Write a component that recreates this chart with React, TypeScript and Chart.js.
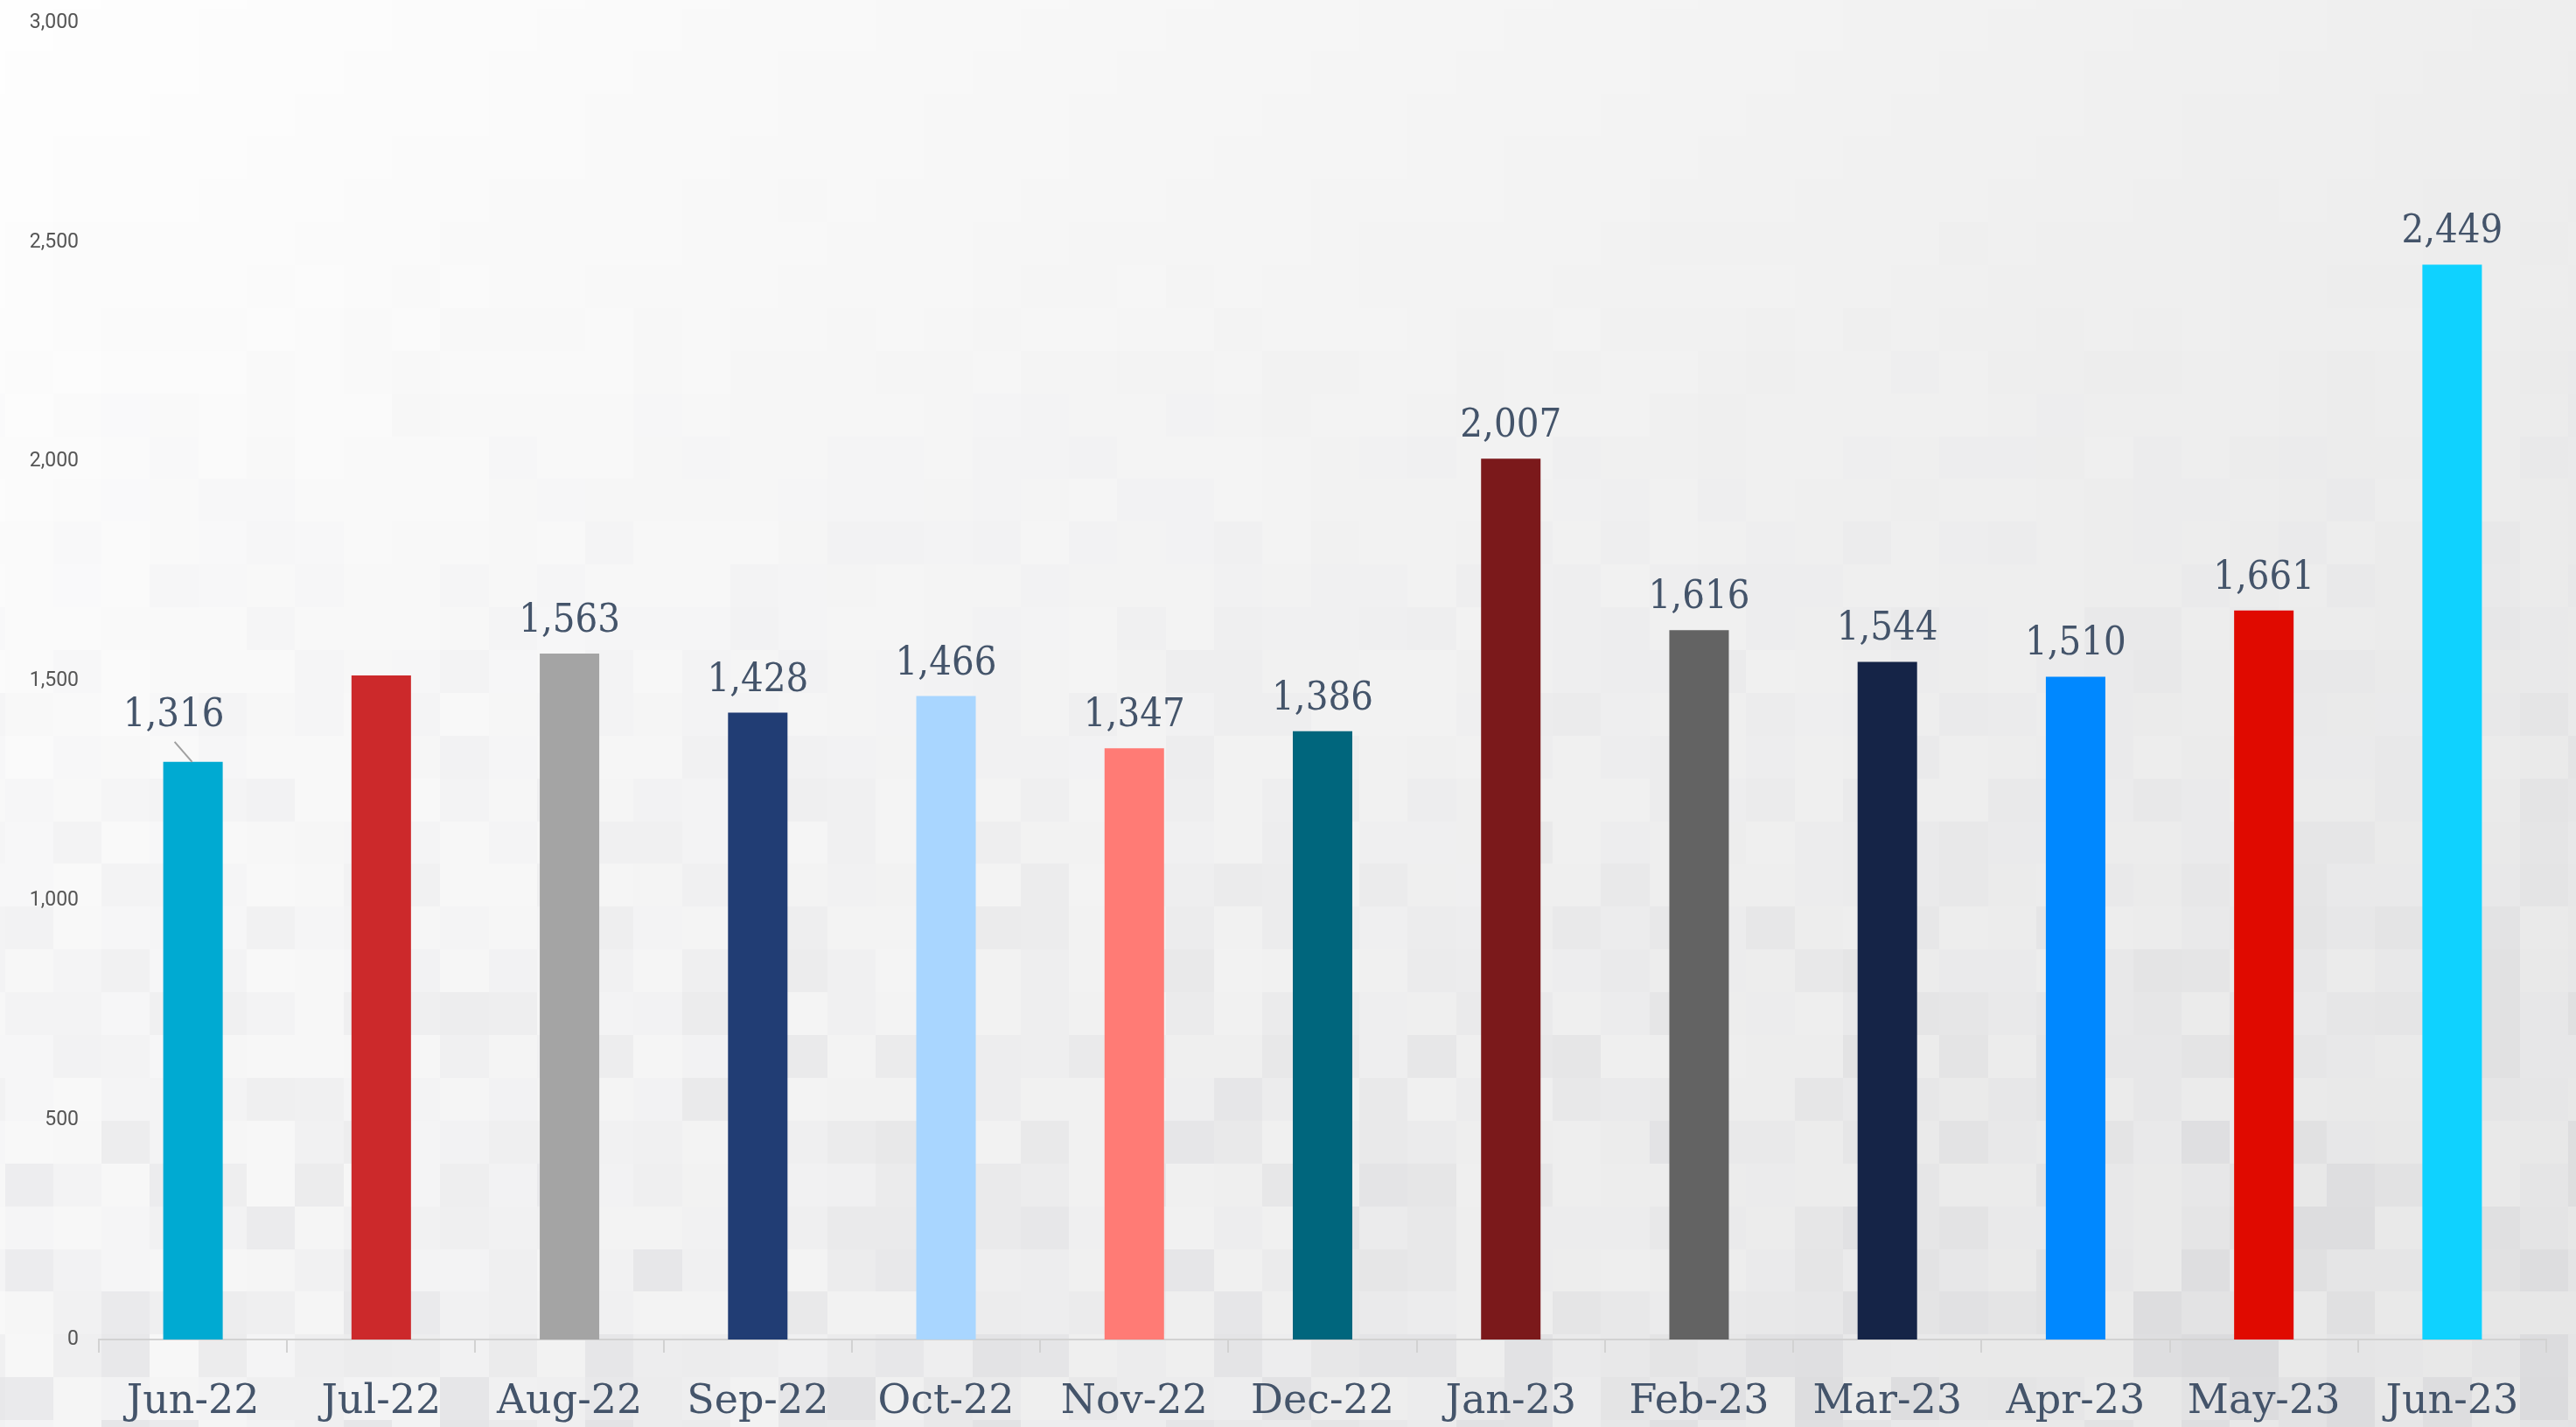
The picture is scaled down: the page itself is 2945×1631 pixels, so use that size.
import React, { useEffect, useRef } from "react";
import { Chart, registerables } from "chart.js";

Chart.register(...registerables);

const categories = [
  "Jun-22", "Jul-22", "Aug-22", "Sep-22", "Oct-22", "Nov-22", "Dec-22",
  "Jan-23", "Feb-23", "Mar-23", "Apr-23", "May-23", "Jun-23",
];
const values = [1316, 1513, 1563, 1428, 1466, 1347, 1386, 2007, 1616, 1544, 1510, 1661, 2449];
const barColors = [
  "#00aad2", "#cc292b", "#a4a4a4", "#213d74", "#a9d6ff", "#ff7b75", "#00667d",
  "#7b191b", "#636363", "#152447", "#0088ff", "#e00a00", "#0fd2ff",
];
const yMin = 0;
const yMax = 3000;
const yStep = 500;

const W = 2945;
const H = 1631;

function hash(i: number, j: number): number {
  let h = (i * 374761393 + j * 668265263) | 0;
  h = Math.imul(h ^ (h >>> 13), 1274126177);
  h = h ^ (h >>> 16);
  return ((h >>> 0) % 10000) / 10000;
}

function baseGray(x: number, y: number, w: number, h: number): number {
  return 254 - 16 * (x / w) - 7 * (y / h);
}

const backgroundPlugin = {
  id: "mosaicBackground",
  beforeDraw(chart: any) {
    const ctx = chart.ctx as CanvasRenderingContext2D;
    const cw = 55.3, ch = 48.9, ox = 6 - 55.3, oy = 10 - 48.9;
    ctx.save();
    for (let j = 0; oy + j * ch < chart.height; j++) {
      for (let i = 0; ox + i * cw < chart.width; i++) {
        const x = ox + i * cw;
        const y = oy + j * ch;
        const cx = x + cw / 2, cy = y + ch / 2;
        const f = Math.max(0, Math.min(1, cy / chart.height));
        const amp = 16 * Math.pow(f, 1.5);
        const r = hash(i, j);
        const d = -amp * Math.pow(r, 1.6) + 1.2 * f * (hash(j + 17, i + 3) - 0.5);
        const g = Math.round(Math.max(0, Math.min(255, baseGray(cx, cy, chart.width, chart.height) + d)));
        const b = Math.min(255, g + Math.round(2 * f * r));
        ctx.fillStyle = `rgb(${g},${g},${b})`;
        ctx.fillRect(Math.floor(x), Math.floor(y), Math.ceil(cw) + 1, Math.ceil(ch) + 1);
      }
    }
    ctx.restore();
  },
};

const dataLabelPlugin = {
  id: "barValueLabels",
  afterDatasetsDraw(chart: any, _args: any, opts: any) {
    const ctx = chart.ctx as CanvasRenderingContext2D;
    const meta = chart.getDatasetMeta(0);
    const data = chart.data.datasets[0].data as number[];
    ctx.save();
    ctx.font = opts.font;
    ctx.fillStyle = opts.color;
    ctx.textAlign = "center";
    ctx.textBaseline = "alphabetic";
    meta.data.forEach((el: any, idx: number) => {
      if (opts.hidden.includes(idx)) return;
      const text = data[idx].toLocaleString("en-US");
      const moved = opts.moved[idx];
      if (moved) {
        ctx.strokeStyle = opts.leaderColor;
        ctx.lineWidth = 2;
        ctx.beginPath();
        ctx.moveTo(el.x + moved.lx0, el.y + moved.ly0);
        ctx.lineTo(el.x + moved.lx1, el.y + moved.ly1);
        ctx.stroke();
        ctx.fillText(text, el.x + moved.dx, el.y - moved.gap);
      } else {
        ctx.fillText(text, el.x, el.y - opts.gap);
      }
    });
    ctx.restore();
  },
};

export default function App() {
  const canvasRef = useRef<HTMLCanvasElement | null>(null);

  useEffect(() => {
    document.body.style.margin = "0";
    const canvas = canvasRef.current;
    if (!canvas) return;
    const chart = new Chart(canvas, {
      type: "bar",
      data: {
        labels: categories,
        datasets: [
          {
            data: values,
            backgroundColor: barColors,
            borderWidth: 0,
            categoryPercentage: 1,
            barPercentage: 0.316,
          },
        ],
      },
      options: {
        animation: false,
        responsive: true,
        maintainAspectRatio: false,
        devicePixelRatio: 1,
        layout: { padding: { top: 26, right: 34, bottom: 0, left: 0 } },
        plugins: {
          legend: { display: false },
          tooltip: { enabled: false },
          title: { display: false },
          barValueLabels: {
            font: "45px 'DejaVu Serif Condensed', 'DejaVu Serif', serif",
            color: "#44546a",
            leaderColor: "#a0a0a0",
            gap: 25,
            hidden: [1],
            moved: { 0: { dx: -22, gap: 41, lx0: -21, ly0: -23, lx1: -1, ly1: 0 } },
          },
        } as any,
        scales: {
          x: {
            grid: {
              display: true,
              offset: true,
              drawOnChartArea: false,
              drawTicks: true,
              tickLength: 15,
              color: "#d2d2d2",
              lineWidth: 2,
            },
            border: { display: true, color: "#d2d2d2", width: 2 },
            ticks: {
              color: "#44546a",
              font: { family: "'DejaVu Serif', serif", size: 46 },
              padding: 29,
              maxRotation: 0,
              autoSkip: false,
            },
            afterFit(scale: any) {
              scale.height = 100;
            },
          },
          y: {
            min: yMin,
            max: yMax,
            grid: { display: false, drawTicks: true, tickLength: 23 },
            border: { display: false },
            ticks: {
              stepSize: yStep,
              color: "#555555",
              font: { family: "Roboto, 'Liberation Sans', sans-serif", size: 23 },
              padding: 0,
              callback: (v: any) => Number(v).toLocaleString("en-US"),
            },
            afterFit(scale: any) {
              scale.width = 113;
            },
          },
        },
      },
      plugins: [backgroundPlugin, dataLabelPlugin],
    });
    return () => chart.destroy();
  }, []);

  return (
    <div style={{ width: W, height: H, position: "relative" }}>
      <canvas ref={canvasRef} />
    </div>
  );
}
